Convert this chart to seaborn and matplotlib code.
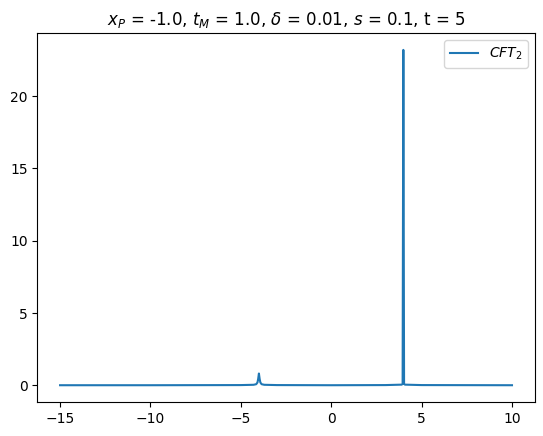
import numpy as np
import pandas as pd
import matplotlib
matplotlib.use("Agg")
import matplotlib.pyplot as plt
import seaborn as sns

# values
x_vals = [-15.0, -10.0, -5.0, -4.3, -4.15, -4.08, -4.04, -4.0, -3.96, -3.92,
          -3.85, -3.7, -3.0, 0.0, 3.0, 3.9, 3.95, 3.99, 4.03, 4.08, 5.0, 10.0]
y_vals = [0.01, 0.01, 0.02, 0.04, 0.08, 0.2, 0.45, 0.82, 0.45, 0.2,
          0.08, 0.04, 0.02, 0.01, 0.02, 0.05, 0.1, 23.2, 0.1, 0.05, 0.02, 0.01]

df = pd.DataFrame({"x": x_vals, "y": y_vals})

fig, ax = plt.subplots(figsize=(5.43, 4.36), dpi=100)
fig.subplots_adjust(left=0.069, right=0.9845, top=0.924, bottom=0.078)

sns.lineplot(data=df, x="x", y="y", ax=ax, color="C0", label=r"$CFT_2$")
ax.set_xlabel("")
ax.set_ylabel("")
ax.set_title(r"$x_P$ = -1.0, $t_M$ = 1.0, $\delta$ = 0.01, $s$ = 0.1, t = 5")
ax.legend(loc="upper right")

fig.savefig("out.png", dpi=100)
